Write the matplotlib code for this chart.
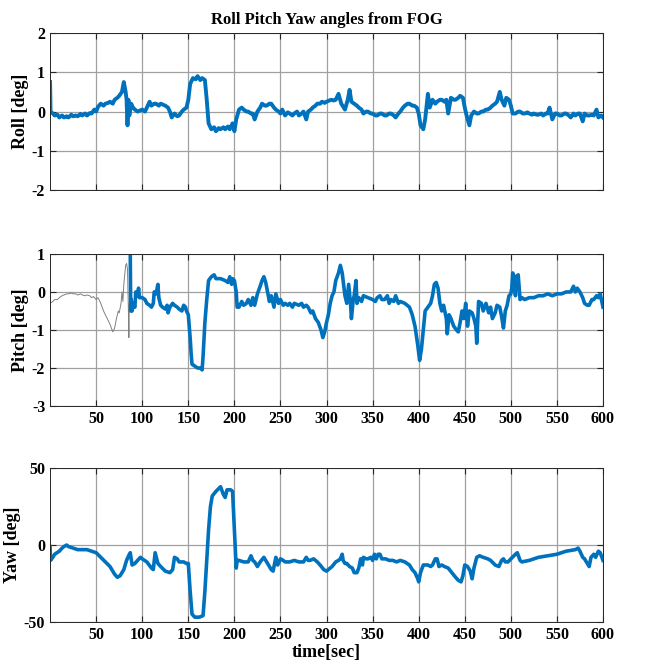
import matplotlib.pyplot as plt

plt.rcParams['font.family'] = ['Liberation Serif', 'DejaVu Serif']
plt.rcParams['font.weight'] = 'bold'
plt.rcParams['axes.unicode_minus'] = False

BLUE = '#0072BD'

### Roll [deg] vs time [sec]
ROLL_T = [0, 0.5, 3, 5, 8, 10, 13, 15, 18, 20, 23, 25, 28, 30, 33, 35, 38, 40, 43, 45, 48, 50,
          52, 55, 58, 60, 63, 65, 68, 70, 73, 75, 78, 80, 82, 83, 84, 85, 86, 88, 90, 92, 95,
          100, 103, 105, 108, 110, 113, 115, 118, 120, 125, 128, 130, 132, 135, 138, 140, 143, 145, 148,
          150, 152, 155, 158, 160, 163, 165, 168, 170, 172, 175, 178, 180, 183, 185, 188, 190, 193, 195, 198,
          200, 202, 205, 208, 210, 213, 215, 218, 220, 222, 225, 228, 230, 233, 235, 238, 240, 243, 245, 248,
          250, 252, 255, 258, 260, 263, 265, 268, 270, 273, 275, 278, 280, 283, 285, 288, 290, 293, 295, 298,
          300, 303, 305, 308, 310, 313, 316, 320, 323, 325, 327, 330, 333, 335, 338, 340, 343, 345, 348,
          350, 353, 355, 358, 360, 363, 365, 368, 370, 373, 375, 378, 380, 383, 385, 388, 390, 393, 395, 398,
          400, 402, 405, 407, 410, 412, 415, 418, 420, 423, 425, 428, 430, 432, 435, 438, 440, 443, 445, 448,
          450, 452, 455, 457, 460, 463, 465, 468, 470, 473, 475, 478, 480, 483, 485, 488, 490, 493, 495, 498,
          500, 502, 505, 508, 510, 513, 515, 518, 520, 523, 525, 528, 530, 533, 535, 538, 540, 542, 545, 548,
          550, 553, 555, 558, 560, 563, 565, 568, 570, 573, 575, 578, 580, 583, 585, 588, 590, 593, 595, 598, 600]
ROLL = [0.75, 0.0, -0.05, -0.1, -0.08, -0.15, -0.1, -0.15, -0.12, -0.15, -0.08, -0.12, -0.1, -0.12, -0.06, -0.1, -0.05, -0.1, -0.04, -0.05, 0.05, 0.0,
        0.12, 0.2, 0.15, 0.2, 0.22, 0.25, 0.2, 0.3, 0.35, 0.4, 0.5, 0.75, 0.5, 0.3, -0.35, 0.3, -0.1, 0.2, 0.1, 0.05, 0.0,
        0.05, 0.0, 0.1, 0.25, 0.15, 0.2, 0.2, 0.15, 0.2, 0.15, 0.1, 0.0, -0.15, -0.05, -0.12, -0.1, 0.0, 0.05, 0.1,
        0.3, 0.7, 0.85, 0.82, 0.9, 0.8, 0.85, 0.8, 0.3, -0.3, -0.45, -0.4, -0.5, -0.42, -0.45, -0.4, -0.45, -0.38, -0.45, -0.3,
        -0.5, -0.2, 0.05, 0.1, 0.05, 0.0, 0.0, -0.05, -0.05, -0.2, 0.0, 0.1, 0.2, 0.15, 0.15, 0.2, 0.2, 0.1, 0.05, 0.0,
        -0.05, 0.05, -0.1, -0.02, -0.05, -0.1, -0.05, 0.0, -0.1, -0.05, 0.0, -0.2, 0.0, 0.05, 0.1, 0.15, 0.2, 0.2, 0.25, 0.22,
        0.25, 0.28, 0.3, 0.28, 0.3, 0.45, 0.2, 0.05, 0.3, 0.55, 0.25, 0.2, 0.15, 0.1, 0.05, -0.05, 0.0, 0.0, -0.05,
        -0.05, -0.1, -0.1, -0.05, -0.05, -0.1, -0.1, -0.05, -0.05, -0.1, -0.15, -0.05, 0.0, 0.1, 0.15, 0.2, 0.2, 0.15, 0.15, 0.1,
        -0.05, -0.35, -0.45, -0.2, 0.45, 0.1, 0.3, 0.2, 0.25, 0.3, 0.3, 0.25, 0.3, -0.05, 0.35, 0.3, 0.3, 0.35, 0.4, 0.35,
        0.1, -0.1, -0.35, -0.1, 0.0, -0.05, -0.05, 0.0, 0.0, 0.05, 0.05, 0.1, 0.15, 0.2, 0.25, 0.5, 0.3, 0.15, 0.35, 0.3,
        0.15, -0.05, -0.05, 0.0, 0.0, -0.05, -0.05, -0.02, -0.05, -0.08, -0.05, -0.08, -0.08, -0.05, -0.1, -0.05, -0.05, 0.1, -0.2, -0.05,
        -0.05, -0.1, -0.1, -0.05, -0.05, -0.1, -0.15, -0.05, -0.1, -0.05, -0.05, -0.25, -0.05, -0.1, -0.1, -0.08, -0.1, 0.05, -0.15, -0.1, -0.15]

### Pitch [deg]: grey raw segment, then blue
PITCH_RAW_T = [0, 3, 5, 8, 10, 13, 15, 18, 20, 23, 25, 28, 30, 33, 35, 38, 40, 43, 45, 47, 50, 52, 55,
               58, 62, 65, 68, 70, 72, 74, 75, 77, 78, 79, 80, 82, 83, 84, 85, 85.5, 86]
PITCH_RAW = [-0.3, -0.25, -0.2, -0.2, -0.15, -0.1, -0.08, -0.05, -0.05, -0.03, -0.05, -0.05, -0.08, -0.05, -0.08, -0.1, -0.08, -0.1, -0.15, -0.12, -0.2, -0.15, -0.3,
             -0.5, -0.7, -0.85, -1.05, -0.95, -0.7, -0.5, -0.55, -0.3, 0.0, -0.25, 0.2, 0.7, 0.75, 0.6, -0.5, -1.2, -0.3]

PITCH_T = [87, 87.5, 88, 89, 90, 92, 93, 95, 96, 97, 100, 103, 105, 108, 110, 112, 113, 115, 117, 118, 120, 122, 125, 127, 128,
           130, 133, 135, 138, 140, 143, 145, 147, 148, 150, 152, 153, 154, 157, 160, 163, 165, 166, 168,
           170, 172, 175, 178, 180, 185, 190, 193, 195, 197, 198, 200, 202, 203, 205, 208, 210, 213, 215, 218,
           220, 222, 225, 228, 230, 232, 234, 236, 238, 240, 243, 245, 248, 250, 253, 255, 258, 260, 263, 265,
           270, 273, 275, 278, 280, 283, 285, 288, 291, 294, 296, 298, 300, 302, 304, 306, 308, 310, 313, 315,
           317, 319, 320, 322, 324, 326, 327, 329, 330, 332, 333, 335, 338, 340, 345, 350, 353, 355, 358, 360,
           363, 366, 368, 370, 373, 375, 378, 380, 385, 390, 393, 396, 399, 401, 403, 405, 407, 410, 413, 415,
           417, 419, 421, 423, 425, 427, 430, 431, 433, 435, 438, 441, 443, 445, 447, 449, 451, 453, 455, 458,
           460, 462, 463, 465, 468, 470, 473, 476, 478, 480, 483, 485, 488, 490, 492, 494, 496, 498, 500, 501,
           502, 503, 505, 506, 508, 510, 512, 515, 520, 525, 530, 535, 540, 545, 550, 555, 560, 565, 568, 570,
           572, 575, 578, 580, 583, 585, 588, 590, 593, 595, 597, 600]
PITCH = [1.0, -0.5, -0.2, -0.5, -0.3, -0.4, 0.0, -0.1, 0.1, -0.15, -0.15, -0.2, -0.3, -0.35, -0.4, -0.3, 0.0, -0.05, 0.2, -0.15, -0.35, -0.4, -0.45, -0.35, -0.55,
         -0.4, -0.3, -0.35, -0.4, -0.45, -0.5, -0.35, -0.4, -0.5, -0.6, -1.2, -1.6, -1.9, -1.95, -2.0, -2.0, -2.05, -1.7, -0.8,
         -0.2, 0.3, 0.4, 0.45, 0.35, 0.35, 0.3, 0.25, 0.4, 0.2, 0.35, 0.3, 0.0, -0.4, -0.4, -0.25, -0.35, -0.3, -0.2, -0.35,
         -0.15, -0.35, -0.05, 0.15, 0.3, 0.4, 0.25, 0.0, -0.25, -0.1, -0.4, -0.05, -0.3, -0.2, -0.35, -0.3, -0.35, -0.3, -0.4, -0.3,
         -0.35, -0.3, -0.4, -0.35, -0.4, -0.55, -0.5, -0.7, -0.8, -1.0, -1.2, -1.05, -0.8, -0.6, -0.3, -0.1, 0.0, 0.3, 0.5, 0.7,
         0.5, 0.1, -0.1, -0.3, 0.2, -0.3, -0.7, -0.2, -0.1, 0.3, -0.3, -0.15, -0.25, -0.1, -0.15, -0.2, -0.25, -0.15, -0.1, -0.2,
         -0.2, -0.1, -0.3, -0.2, -0.25, -0.1, -0.3, -0.25, -0.3, -0.4, -0.6, -0.9, -1.4, -1.8, -1.5, -1.0, -0.5, -0.4, -0.3, -0.1,
         0.2, 0.25, 0.1, -0.3, -0.5, -0.35, -0.7, -1.1, -0.6, -0.7, -0.9, -1.0, -1.05, -0.8, -0.5, -0.7, -0.3, -0.9, -0.5, -0.55,
         -0.7, -0.9, -1.35, -0.25, -0.3, -0.5, -0.3, -0.55, -0.4, -0.7, -0.55, -0.35, -0.4, -0.65, -0.95, -0.5, -0.35, -0.1, -0.05, 0.1,
         0.5, 0.45, -0.1, 0.4, 0.45, -0.2, -0.15, -0.2, -0.15, -0.15, -0.1, -0.1, -0.05, -0.1, -0.05, -0.05, 0.0, 0.0, 0.15, 0.0,
         0.1, 0.0, -0.15, -0.3, -0.35, -0.35, -0.2, -0.2, -0.1, -0.15, -0.05, -0.4]

### Yaw [deg]
YAW_T = [0, 0.5, 3, 5, 10, 13, 15, 18, 20, 25, 30, 40, 45, 50, 55, 60, 65, 70, 73, 76, 80, 83, 86, 87, 89, 92, 95, 98,
         100, 105, 110, 112, 114, 117, 120, 125, 130, 133, 135, 138, 140, 145, 148, 150, 152, 154, 157, 162, 166, 168,
         170, 172, 174, 176, 180, 185, 188, 190, 192, 196, 198, 200, 202, 203, 205, 210, 215, 218, 220, 222, 225, 228,
         232, 234, 238, 240, 242, 245, 247, 250, 253, 255, 260, 265, 270, 275, 278, 280, 282, 286, 290, 293, 297,
         300, 302, 306, 310, 313, 315, 317, 318, 320, 322, 325, 328, 330, 333, 335, 337, 339, 340, 343, 345, 348,
         350, 352, 354, 356, 358, 360, 364, 368, 372, 376, 380, 385, 390, 393, 396, 399, 400, 402, 405, 410, 413,
         415, 418, 420, 422, 425, 428, 432, 436, 440, 443, 446, 448, 450, 453, 456, 458, 460, 463, 466, 470, 475,
         478, 483, 487, 490, 492, 494, 497, 500, 505, 507, 510, 512, 520, 530, 540, 550, 560, 570, 573, 575, 578,
         580, 583, 585, 587, 590, 592, 595, 597, 600]
YAW = [-1, -10, -8, -6, -4, -2, -1, 0, -1, -2, -3, -3, -4, -5, -8, -11, -14, -19, -21, -20, -16, -10, -6, -5, -13, -12, -10, -8,
       -9, -11, -15, -16, -5, -12, -14, -17, -18, -16, -8, -9, -11, -11, -12, -12, -30, -45, -47, -47, -46, -30,
       -10, 10, 25, 32, 35, 38, 33, 31, 36, 36, 35, 10, -15, -10, -10, -11, -11, -7, -10, -11, -14, -11,
       -8, -10, -14, -16, -17, -8, -13, -9, -10, -11, -11, -10, -11, -11, -8, -10, -10, -9, -11, -13, -16,
       -17, -16, -14, -11, -10, -9, -6, -10, -12, -12, -14, -15, -18, -18, -15, -9, -13, -8, -9, -9, -8,
       -10, -6, -9, -6, -6, -9, -9, -10, -10, -11, -10, -11, -13, -16, -18, -22, -24, -18, -13, -13, -14,
       -13, -9, -9, -14, -13, -14, -15, -18, -21, -23, -24, -20, -13, -14, -17, -22, -15, -8, -7, -8, -9,
       -10, -13, -14, -10, -9, -11, -11, -9, -6, -5, -10, -11, -10, -8, -7, -6, -4, -3, -2, -4, -8,
       -9, -12, -14, -8, -6, -8, -4, -5, -10]

XTICKS = list(range(50, 601, 50))

fig = plt.figure(figsize=(6.59, 6.70), dpi=100)
ax1 = fig.add_axes([0.076, 0.716, 0.839, 0.235])
ax2 = fig.add_axes([0.076, 0.394, 0.839, 0.227])
ax3 = fig.add_axes([0.076, 0.072, 0.839, 0.229])

ax1.plot(ROLL_T, ROLL, color=BLUE, lw=2.8)
ax2.plot(PITCH_RAW_T, PITCH_RAW, color='#808080', lw=0.7)
ax2.plot(PITCH_T, PITCH, color=BLUE, lw=2.6)
ax3.plot(YAW_T, YAW, color=BLUE, lw=2.6)

ax1.set_ylim(-2, 2)
ax1.set_yticks([-2, -1, 0, 1, 2])
ax2.set_ylim(-3, 1)
ax2.set_yticks([-3, -2, -1, 0, 1])
ax3.set_ylim(-50, 50)
ax3.set_yticks([-50, 0, 50])

for ax, lab in [(ax1, 'Roll [deg]'), (ax2, 'Pitch [deg]'), (ax3, 'Yaw [deg]')]:
    ax.set_xlim(0, 600)
    ax.set_xticks(XTICKS)
    ax.grid(True, color='#a0a0a0', lw=0.9)
    ax.set_axisbelow(True)
    ax.tick_params(direction='in', top=True, right=True, labelsize=11.5, length=4, color='#262626')
    for s in ax.spines.values():
        s.set_color('#262626')
        s.set_linewidth(0.7)
    ax.set_ylabel(lab, fontsize=13, fontweight='bold', labelpad=2)

ax1.tick_params(labelbottom=False)
ax1.set_title('Roll Pitch Yaw angles from FOG', fontsize=12, fontweight='bold', pad=6)
ax3.set_xlabel('time[sec]', fontsize=13, fontweight='bold', labelpad=1)

fig.savefig('out.png', dpi=100)
